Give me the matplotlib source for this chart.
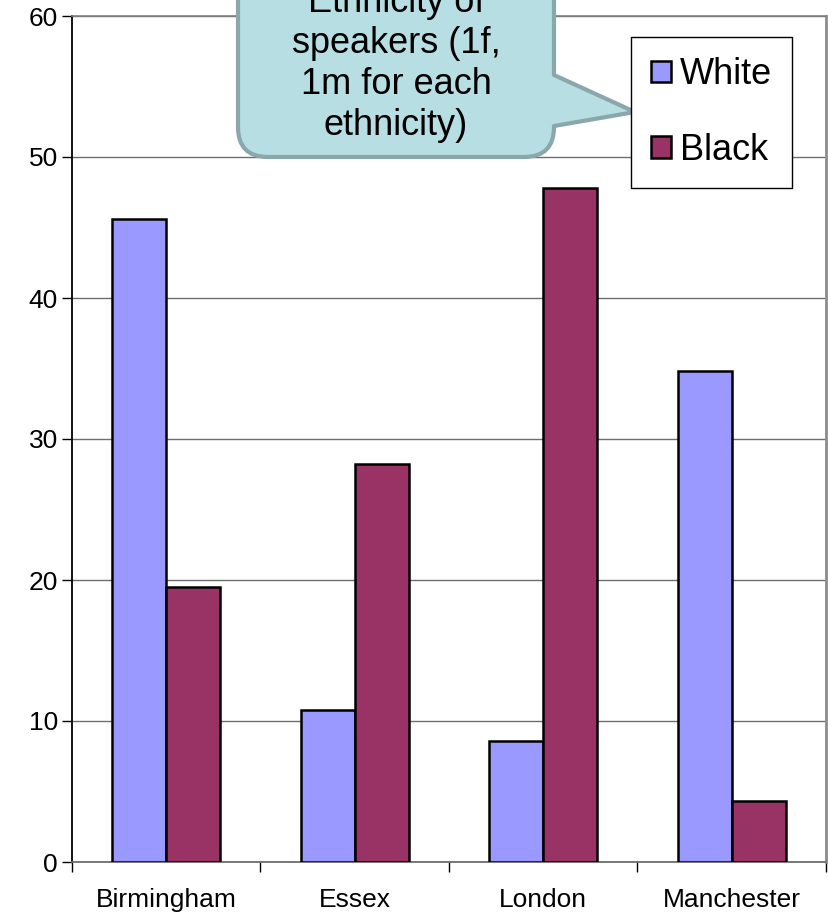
import matplotlib
matplotlib.use("Agg")
import matplotlib.pyplot as plt
import numpy as np
from matplotlib.path import Path
from matplotlib.patches import PathPatch

plt.rcParams['font.family'] = ['Liberation Sans', 'DejaVu Sans']

# Data
regions = ["Birmingham", "Essex", "London", "Manchester"]
white = [45.6, 10.8, 8.6, 34.8]
black = [19.5, 28.2, 47.8, 4.3]
yticks = [0, 10, 20, 30, 40, 50, 60]

W, H = 829, 916
fig = plt.figure(figsize=(W / 100, H / 100), dpi=100)
fig.patch.set_facecolor("white")

ax_l, ax_r, ax_t, ax_b = 72, 826, 16, 862
ax = fig.add_axes([ax_l / W, 1 - ax_b / H, (ax_r - ax_l) / W, (ax_b - ax_t) / H])

x = np.arange(len(regions))
bw = 0.286
ax.bar(x - bw / 2, white, width=bw, color="#9999FF", edgecolor="black",
       linewidth=1.8, label="White", zorder=3)
ax.bar(x + bw / 2, black, width=bw, color="#993366", edgecolor="black",
       linewidth=1.8, label="Black", zorder=3)

ax.set_xlim(-0.5, len(regions) - 0.5)
ax.set_ylim(0, 60)
ax.set_yticks(yticks)
ax.set_yticklabels([str(v) for v in yticks], fontsize=19)
ax.yaxis.grid(True, color="#6e6e6e", linewidth=1.0, zorder=0)
ax.set_axisbelow(True)

ax.set_xticks(x)
ax.set_xticklabels(regions, fontsize=19)
ax.tick_params(axis="x", which="major", length=0, pad=19)
ax.set_xticks(np.arange(-0.5, len(regions)), minor=True)
ax.tick_params(axis="x", which="minor", length=7, width=1.0, direction="out", color="black")
ax.tick_params(axis="y", length=7, width=1.0, direction="out", color="black", pad=3)

ax.spines["left"].set_color("black")
ax.spines["left"].set_linewidth(1.3)
ax.spines["bottom"].set_color("#6e6e6e")
ax.spines["bottom"].set_linewidth(1.3)
ax.spines["top"].set_color("#7f7f7f")
ax.spines["top"].set_linewidth(1.2)
ax.spines["right"].set_color("#8c8c8c")
ax.spines["right"].set_linewidth(2.0)

# Legend box
leg = fig.legend(loc="upper left", bbox_to_anchor=(631 / W, 1 - 37 / H),
                 borderaxespad=0, fontsize=26, frameon=True, fancybox=False,
                 edgecolor="black", framealpha=1, handlelength=0.55,
                 handleheight=0.55, handletextpad=0.25, borderpad=0.56,
                 labelspacing=1.12)
leg.get_frame().set_linewidth(1.0)
leg.set_zorder(5)

# Callout bubble drawn in pixel space on an overlay
ov = fig.add_axes([0, 0, 1, 1])
ov.set_xlim(0, W)
ov.set_ylim(H, 0)
ov.axis("off")
ov.set_zorder(4)
ov.patch.set_alpha(0)

L, R, T, B, r = 238, 554, -40, 157, 30
verts = [
    (L, T), (R, T), (R, 75), (635, 112), (R, 126), (R, B - r),
    (R, B), (R - r, B), (L + r, B), (L, B), (L, B - r), (L, T), (L, T),
]
codes = [
    Path.MOVETO, Path.LINETO, Path.LINETO, Path.LINETO, Path.LINETO, Path.LINETO,
    Path.CURVE3, Path.CURVE3, Path.LINETO, Path.CURVE3, Path.CURVE3, Path.LINETO,
    Path.CLOSEPOLY,
]
ov.add_patch(PathPatch(Path(verts, codes), facecolor="#b7dee2",
                       edgecolor="#8aa7ab", linewidth=3.0, joinstyle="round"))
ov.text(396, 64, "Ethnicity of\nspeakers (1f,\n1m for each\nethnicity)",
        ha="center", va="center", fontsize=26, linespacing=1.21, color="black")

fig.savefig("out.png", dpi=100)
